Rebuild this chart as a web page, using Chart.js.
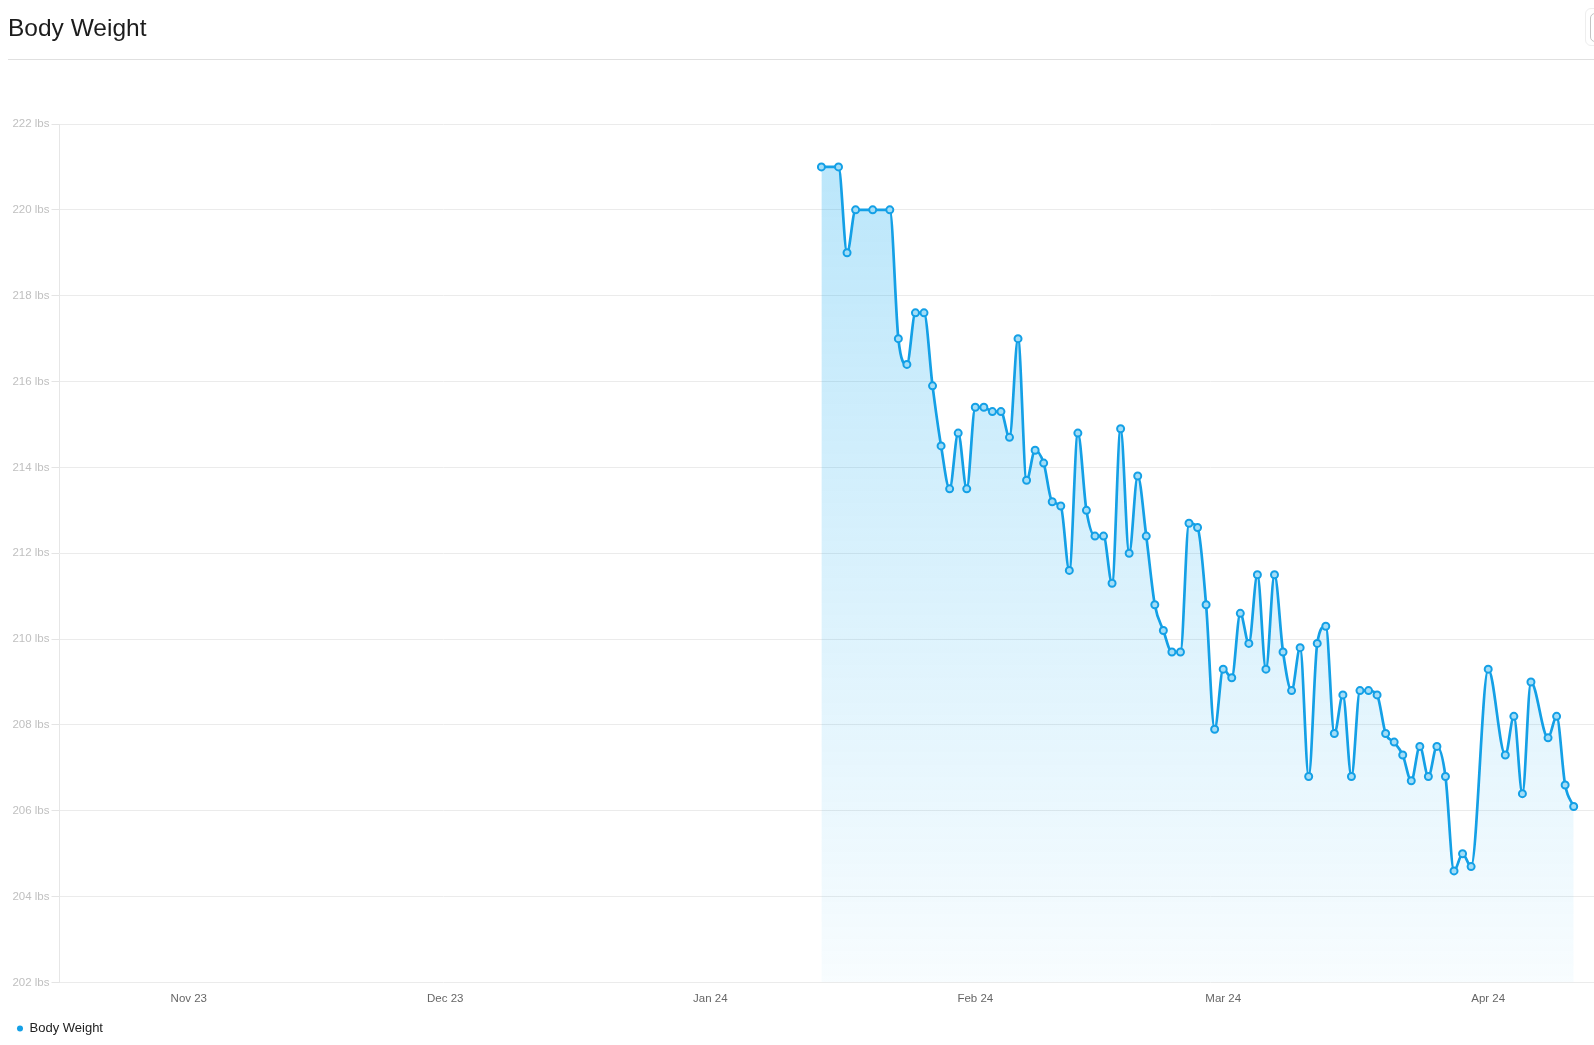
<!DOCTYPE html>
<html><head><meta charset="utf-8">
<script src="https://cdn.jsdelivr.net/npm/chart.js@4.4.1/dist/chart.umd.min.js"></script>
<style>
html,body{margin:0;padding:0;background:#fff;overflow:hidden;width:1594px;height:1045px;}
#title{position:absolute;left:8px;top:16px;font:24.5px/1 "Liberation Sans",Arial,sans-serif;color:#1c1c1c;z-index:2;}
#rule{position:absolute;left:8px;right:0;top:59px;height:1px;background:#e0e0e0;}
#btnOuter{position:absolute;left:1585px;top:8px;width:40px;height:38px;border:1px solid #eeeeee;border-radius:6px;box-sizing:border-box;}
#btnInner{position:absolute;left:1590px;top:13px;width:30px;height:29px;border:1.5px solid #c4c4c4;border-radius:5px;box-sizing:border-box;}
#wrap{position:absolute;left:0;top:0;width:1594px;height:1045px;}
</style></head><body>
<div id="title">Body Weight</div>
<div id="rule"></div>
<div id="btnOuter"></div><div id="btnInner"></div>
<div id="wrap"><canvas id="c" width="1594" height="1045"></canvas></div>
<script>
const seriesName = 'Body Weight';
const dates = [
 '2024-01-14','2024-01-16','2024-01-17','2024-01-18','2024-01-20','2024-01-22','2024-01-23','2024-01-24','2024-01-25','2024-01-26','2024-01-27','2024-01-28','2024-01-29','2024-01-30','2024-01-31',
 '2024-02-01','2024-02-02','2024-02-03','2024-02-04','2024-02-05','2024-02-06','2024-02-07','2024-02-08','2024-02-09','2024-02-10','2024-02-11','2024-02-12','2024-02-13','2024-02-14','2024-02-15','2024-02-16','2024-02-17','2024-02-18','2024-02-19','2024-02-20','2024-02-21','2024-02-22','2024-02-23','2024-02-24','2024-02-25','2024-02-26','2024-02-27','2024-02-28','2024-02-29',
 '2024-03-01','2024-03-02','2024-03-03','2024-03-04','2024-03-05','2024-03-06','2024-03-07','2024-03-08','2024-03-09','2024-03-10','2024-03-11','2024-03-12','2024-03-13','2024-03-14','2024-03-15','2024-03-16','2024-03-17','2024-03-18','2024-03-19','2024-03-20','2024-03-21','2024-03-22','2024-03-23','2024-03-24','2024-03-25','2024-03-26','2024-03-27','2024-03-28','2024-03-29','2024-03-30',
 '2024-04-01','2024-04-03','2024-04-04','2024-04-05','2024-04-06','2024-04-08','2024-04-09','2024-04-10','2024-04-11'
];
const weights = [
 221.0,221.0,219.0,220.0,220.0,220.0,217.0,216.4,217.6,217.6,215.9,214.5,213.5,214.8,213.5,
 215.4,215.4,215.3,215.3,214.7,217.0,213.7,214.4,214.1,213.2,213.1,211.6,214.8,213.0,212.4,212.4,211.3,214.9,212.0,213.8,212.4,210.8,210.2,209.7,209.7,212.7,212.6,210.8,207.9,
 209.3,209.1,210.6,209.9,211.5,209.3,211.5,209.7,208.8,209.8,206.8,209.9,210.3,207.8,208.7,206.8,208.8,208.8,208.7,207.8,207.6,207.3,206.7,207.5,206.8,207.5,206.8,204.6,205.0,204.7,
 209.3,207.3,208.2,206.4,209.0,207.7,208.2,206.6,206.1
];
const monthTickDates = ['2023-11-01','2023-12-01','2024-01-01','2024-02-01','2024-03-01','2024-04-01'];
const monthTickLabels = ['Nov 23','Dec 23','Jan 24','Feb 24','Mar 24','Apr 24'];
const xRange = ['2023-10-16T21:00:00Z','2024-04-13T09:00:00Z'];
const yRange = [202, 222];
const yStep = 2;
const yUnit = ' lbs';

const DAY = 86400000;
const EPOCH = Date.UTC(2024,0,1);
const toDay = s => (Date.parse(s.length === 10 ? s + 'T00:00:00Z' : s) - EPOCH) / DAY;

const lineColor = 'rgb(20,160,230)';
const pointFill = '#a3ddf7';
const FONT = '"Liberation Sans", Arial, Helvetica, sans-serif';

const tickDays = monthTickDates.map(toDay);

const ctx = document.getElementById('c').getContext('2d');
new Chart(ctx, {
  type: 'line',
  data: {
    datasets: [{
      label: seriesName,
      data: dates.map((d, i) => ({ x: toDay(d), y: weights[i] })),
      borderColor: lineColor,
      borderWidth: 2.7,
      cubicInterpolationMode: 'monotone',
      pointRadius: 3.5,
      pointBorderWidth: 2,
      pointBackgroundColor: pointFill,
      pointBorderColor: lineColor,
      fill: 'start',
      backgroundColor: (c) => {
        const a = c.chart.chartArea;
        if (!a) return 'rgba(20,170,240,0.15)';
        const g = c.chart.ctx.createLinearGradient(0, a.top, 0, a.bottom);
        g.addColorStop(0, 'rgba(20,170,240,0.30)');
        g.addColorStop(1, 'rgba(20,170,240,0.03)');
        return g;
      }
    }]
  },
  options: {
    responsive: false,
    animation: false,
    layout: { autoPadding: false, padding: { left: 7, right: 0, top: 124, bottom: 0 } },
    plugins: {
      tooltip: { enabled: false },
      legend: {
        position: 'bottom',
        align: 'start',
        labels: {
          usePointStyle: true,
          boxWidth: 6,
          boxHeight: 4.25,
          padding: 10,
          color: '#222',
          font: { family: FONT, size: 13 },
          generateLabels: (chart) => [{
            text: seriesName, fillStyle: lineColor, strokeStyle: lineColor,
            lineWidth: 0, pointStyle: 'circle', hidden: false, datasetIndex: 0, fontColor: '#222'
          }]
        }
      }
    },
    scales: {
      x: {
        type: 'linear',
        min: toDay(xRange[0]),
        max: toDay(xRange[1]),
        grid: { display: false, drawTicks: false },
        border: { display: false },
        afterBuildTicks: (s) => { s.ticks = tickDays.map(v => ({ value: v })); },
        afterFit: (s) => { s.height = 29.5; s.paddingLeft = 0; s.paddingRight = 0; },
        ticks: {
          autoSkip: false, maxRotation: 0, minRotation: 0,
          padding: 9,
          color: '#666',
          font: { family: FONT, size: 11.5 },
          callback: (v) => { const i = tickDays.indexOf(v); return i >= 0 ? monthTickLabels[i] : ''; }
        }
      },
      y: {
        min: yRange[0], max: yRange[1],
        afterFit: (s) => { s.width = 52.5; },
        grid: { color: '#ebebeb', tickLength: 8, tickColor: '#e4e4e4', lineWidth: 1 },
        border: { display: true, color: '#e6e6e6' },
        ticks: {
          stepSize: yStep,
          padding: 2,
          color: '#c0c0c0',
          font: { family: FONT, size: 11.5 },
          callback: (v) => v + yUnit
        }
      }
    }
  }
});
</script>
</body></html>
